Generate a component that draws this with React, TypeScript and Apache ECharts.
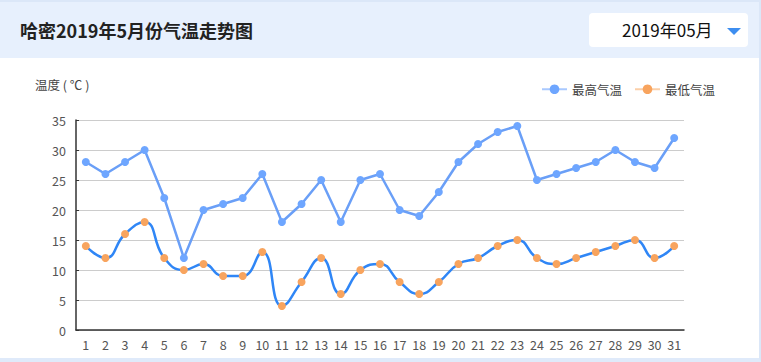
import React, { useEffect, useRef } from "react";
import * as echarts from "echarts";

const days = Array.from({ length: 31 }, (_, i) => String(i + 1));
const highTemps = [28, 26, 28, 30, 22, 12, 20, 21, 22, 26, 18, 21, 25, 18, 25, 26, 20, 19, 23, 28, 31, 33, 34, 25, 26, 27, 28, 30, 28, 27, 32];
const lowTemps = [14, 12, 16, 18, 12, 10, 11, 9, 9, 13, 4, 8, 12, 6, 10, 11, 8, 6, 8, 11, 12, 14, 15, 12, 11, 12, 13, 14, 15, 12, 14];
const seriesNames = ["最高气温", "最低气温"];
const titleText = "哈密2019年5月份气温走势图";
const monthText = "2019年05月";
const yAxisName = "温度 ( ℃ )";

const FONT = "'Microsoft YaHei', 'Noto Sans CJK SC', sans-serif";

export default function App() {
  const ref = useRef<HTMLDivElement>(null);
  useEffect(() => {
    document.body.style.margin = "0";
    if (!ref.current) return;
    const chart = echarts.init(ref.current, undefined, { renderer: "svg" });
    chart.setOption({
      animation: false,
      textStyle: { fontFamily: FONT },
      grid: { left: 76, right: 75, top: 62, bottom: 28 },
      legend: {
        right: 39,
        top: 20,
        itemWidth: 25,
        itemHeight: 12,
        itemGap: 12,
        textStyle: { color: "#444", fontSize: 12.5, fontFamily: FONT },
        data: [
          { name: seriesNames[0], itemStyle: { color: "#6ea6ff" }, lineStyle: { color: "#a9c9ff" } },
          { name: seriesNames[1], itemStyle: { color: "#f8a45e" }, lineStyle: { color: "#fbcfa8" } },
        ],
      },
      graphic: [
        {
          type: "text",
          left: 35,
          top: 20,
          style: { text: yAxisName, fill: "#444", fontSize: 12.5, fontFamily: FONT },
        },
      ],
      xAxis: {
        type: "category",
        data: days,
        boundaryGap: true,
        axisLine: { lineStyle: { color: "#333", width: 1.5 } },
        axisTick: { show: false },
        axisLabel: { color: "#555", fontSize: 12.5, margin: 8 },
      },
      yAxis: {
        type: "value",
        min: 0,
        max: 35,
        interval: 5,
        axisLine: { show: true, lineStyle: { color: "#333", width: 1.5 } },
        axisTick: { show: true, inside: true, length: 3, lineStyle: { color: "#333" } },
        axisLabel: { color: "#555", fontSize: 12.5, margin: 10 },
        splitLine: { lineStyle: { color: "#cccccc" } },
      },
      series: [
        {
          name: seriesNames[0],
          type: "line",
          data: highTemps,
          symbol: "circle",
          symbolSize: 8,
          itemStyle: { color: "#6ea6ff" },
          lineStyle: { color: "#6a9ff7", width: 2.5 },
        },
        {
          name: seriesNames[1],
          type: "line",
          data: lowTemps,
          smooth: true,
          symbol: "circle",
          symbolSize: 8,
          itemStyle: { color: "#f8a45e" },
          lineStyle: { color: "#2f86f6", width: 2.5 },
        },
      ],
    });
    return () => chart.dispose();
  }, []);

  return (
    <div
      style={{
        position: "absolute",
        left: 0,
        top: 0,
        width: 761,
        height: 362,
        boxSizing: "border-box",
        borderTop: "2px solid #dbe7f8",
        borderRight: "2px solid #dbe7f8",
        borderBottom: "4px solid #dfeafa",
        background: "#fff",
        fontFamily: FONT,
      }}
    >
      <div
        style={{
          position: "absolute",
          left: 0,
          top: 0,
          width: 759,
          height: 56,
          background: "#e7f0fd",
        }}
      >
        <div
          style={{
            position: "absolute",
            left: 20,
            top: 15,
            fontSize: 18,
            fontWeight: "bold",
            color: "#222",
            lineHeight: "26px",
            whiteSpace: "nowrap",
          }}
        >
          {titleText}
        </div>
        <div
          style={{
            position: "absolute",
            left: 589,
            top: 11,
            width: 159,
            height: 34,
            background: "#fff",
            borderRadius: 4,
          }}
        >
          <div
            style={{
              position: "absolute",
              left: 33,
              top: 6,
              fontSize: 17,
              lineHeight: "22px",
              color: "#111",
              whiteSpace: "nowrap",
            }}
          >
            {monthText}
          </div>
          <div
            style={{
              position: "absolute",
              left: 138,
              top: 15,
              width: 0,
              height: 0,
              borderLeft: "7px solid transparent",
              borderRight: "7px solid transparent",
              borderTop: "7px solid #3d8ef0",
            }}
          />
        </div>
      </div>
      <div ref={ref} style={{ position: "absolute", left: 0, top: 56, width: 759, height: 300 }} />
    </div>
  );
}
